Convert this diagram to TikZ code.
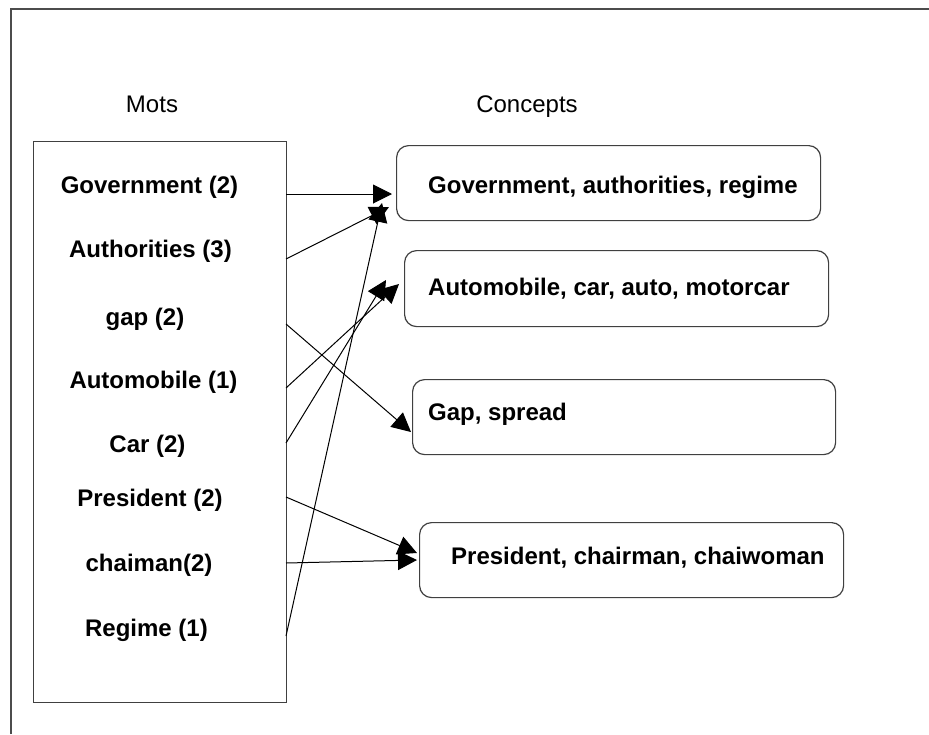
\documentclass[tikz,border=0pt]{standalone}
\usepackage{fontspec}
\setmainfont{Liberation Sans}
\usetikzlibrary{arrows.meta}
\begin{document}
\begin{tikzpicture}[x=1pt,y=-1pt,
  frameline/.style={draw=black!70,line width=1.3pt},
  wordbox/.style={draw=black!75,line width=1.2pt,inner sep=0pt},
  conceptbox/.style={draw=black!75,line width=1.2pt,rounded corners=12pt,inner sep=0pt},
  word/.style={font=\fontsize{24}{28}\selectfont\bfseries,anchor=base,inner sep=0pt},
  concept/.style={font=\fontsize{24}{28}\selectfont\bfseries,anchor=base west,inner sep=0pt},
  heading/.style={font=\fontsize{24}{28}\selectfont,anchor=base,inner sep=0pt},
  link/.style={draw=black,line width=1pt,-{Triangle[length=19pt,width=19pt]}}]
\useasboundingbox (0,0) rectangle (929,734);

% outer frame (left and top edges only)
\draw[frameline] (11,734) -- (11,9) -- (929,9);

% column headings
\node[heading] (hm) at (152,112) {Mots};
\node[heading] (hc) at (527,112) {Concepts};

% word list box
\node[wordbox,anchor=north west,minimum width=253pt,minimum height=561pt] (mots) at (33,141) {};
\node[word] (w1) at (149.5,193) {Government (2)};
\node[word] (w2) at (150.5,257) {Authorities (3)};
\node[word] (w3) at (145,325) {gap (2)};
\node[word] (w4) at (153.5,388) {Automobile (1)};
\node[word] (w5) at (147.5,452) {Car (2)};
\node[word] (w6) at (150,506) {President (2)};
\node[word] (w7) at (149,571) {chaiman(2)};
\node[word] (w8) at (146.5,636) {Regime (1)};

% concept boxes
\node[conceptbox,anchor=north west,minimum width=424pt,minimum height=75pt] (c1) at (396,145) {};
\node[conceptbox,anchor=north west,minimum width=424pt,minimum height=76pt] (c2) at (404,250) {};
\node[conceptbox,anchor=north west,minimum width=423pt,minimum height=75pt] (c3) at (412,379) {};
\node[conceptbox,anchor=north west,minimum width=424pt,minimum height=75pt] (c4) at (419,522) {};
\node[concept] (t1) at (428,193) {Government, authorities, regime};
\node[concept] (t2) at (428,295) {Automobile, car, auto, motorcar};
\node[concept] (t3) at (428,420) {Gap, spread};
\node[concept] (t4) at (451,564) {President, chairman, chaiwoman};

% connector end points
\coordinate (s1) at (286,194);
\coordinate (s2) at (286,259);
\coordinate (s3) at (286,324);
\coordinate (s4) at (286,388);
\coordinate (s5) at (286,443);
\coordinate (s6) at (286,497);
\coordinate (s7) at (286,563);
\coordinate (s8) at (286,636);
\coordinate (e1) at (392,194);
\coordinate (e2) at (389,207);
\coordinate (e3) at (411,432);
\coordinate (e4) at (399,284);
\coordinate (e5) at (386,280);
\coordinate (e6) at (417,553);
\coordinate (e7) at (417,560);
\coordinate (e8) at (382,203);

% word -> concept links
\draw[link] (s1) -- (e1);
\draw[link] (s2) -- (e2);
\draw[link] (s8) -- (e8);
\draw[link] (s3) -- (e3);
\draw[link] (s4) -- (e4);
\draw[link] (s5) -- (e5);
\draw[link] (s6) -- (e6);
\draw[link] (s7) -- (e7);
\end{tikzpicture}
\end{document}
